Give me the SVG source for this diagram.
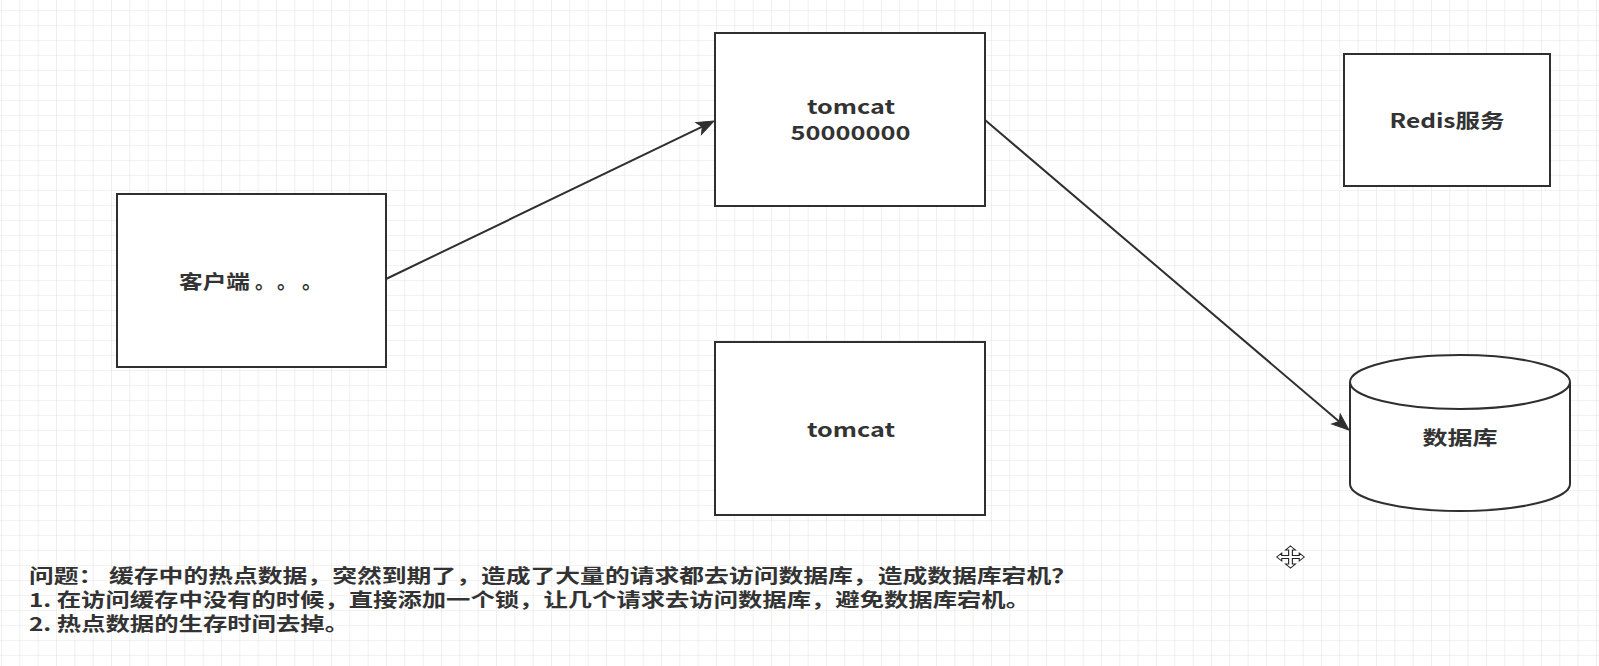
<svg xmlns="http://www.w3.org/2000/svg" width="1599" height="666" viewBox="0 0 1599 666">
  <style>
    .box { fill: #ffffff; stroke: #2f2f2f; stroke-width: 2; }
    .lbl { font-family: "Noto Sans CJK SC", "Open Sans", sans-serif; font-weight: bold; font-size: 19.5px; fill: #333333; }
    .note { font-family: "Noto Sans CJK SC", "Open Sans", sans-serif; font-weight: bold; font-size: 19px; fill: #333333; }
    .edge { fill: none; stroke: #2f2f2f; stroke-width: 2; }
  </style>
  <defs>
    <pattern id="grid" x="1" y="10" width="18.333" height="15" patternUnits="userSpaceOnUse">
      <path d="M0 0 H18.333 M0 0 V15" fill="none" stroke="#e6e6e6" stroke-width="1.2"/>
    </pattern>
    <marker id="arrow" markerUnits="userSpaceOnUse" markerWidth="30" markerHeight="30" refX="0" refY="0" orient="auto" overflow="visible">
      <path d="M6,0 L-11,-6.5 L-7,0 L-11,6.5 Z" fill="#2f2f2f" stroke="#2f2f2f" stroke-width="1" stroke-linejoin="miter"/>
    </marker>
  </defs>

  <rect x="0" y="0" width="1599" height="666" fill="#ffffff"/>
  <rect x="0" y="0" width="1599" height="666" fill="url(#grid)"/>

  <g id="connectors">
    <line class="edge" x1="386" y1="279" x2="708.6" y2="123.6" marker-end="url(#arrow)"/>
    <line class="edge" x1="985" y1="120" x2="1344.4" y2="426.1" marker-end="url(#arrow)"/>
  </g>

  <g id="client">
    <rect class="box" x="117" y="194" width="269" height="173"/>
    <text class="lbl" y="289"><tspan x="179" textLength="71" lengthAdjust="spacingAndGlyphs">客户端</tspan><tspan x="255">。</tspan><tspan x="277">。</tspan><tspan x="302">。</tspan></text>
  </g>

  <g id="tomcat1">
    <rect class="box" x="715" y="33" width="270" height="173"/>
    <text class="lbl" x="851" y="114" text-anchor="middle" textLength="88" lengthAdjust="spacingAndGlyphs">tomcat</text>
    <text class="lbl" x="850.5" y="140" text-anchor="middle" textLength="120" lengthAdjust="spacingAndGlyphs">50000000</text>
  </g>

  <g id="tomcat2">
    <rect class="box" x="715" y="342" width="270" height="173"/>
    <text class="lbl" x="851" y="437" text-anchor="middle" textLength="88" lengthAdjust="spacingAndGlyphs">tomcat</text>
  </g>

  <g id="redis">
    <rect class="box" x="1344" y="54" width="206" height="132"/>
    <text class="lbl" x="1447" y="128" text-anchor="middle" textLength="115" lengthAdjust="spacingAndGlyphs">Redis服务</text>
  </g>

  <g id="database">
    <path class="box" d="M1350,382 A110,27 0 0,1 1570,382 V484 A110,27 0 0,1 1350,484 Z"/>
    <path class="edge" d="M1350,382 A110,27 0 0,0 1570,382"/>
    <text class="lbl" x="1460" y="445" text-anchor="middle" textLength="75" lengthAdjust="spacingAndGlyphs">数据库</text>
  </g>

  <g id="notes">
    <text class="note" x="29" y="583" textLength="1047" lengthAdjust="spacingAndGlyphs">问题： 缓存中的热点数据，突然到期了，造成了大量的请求都去访问数据库，造成数据库宕机？</text>
    <text class="note" x="29" y="607" textLength="1001" lengthAdjust="spacingAndGlyphs">1. 在访问缓存中没有的时候，直接添加一个锁，让几个请求去访问数据库，避免数据库宕机。</text>
    <text class="note" x="29" y="631" textLength="320" lengthAdjust="spacingAndGlyphs">2. 热点数据的生存时间去掉。</text>
  </g>

  <g id="cursor" transform="translate(1290.5,557) scale(1.25,1)">
    <path d="M0,-11 L4,-7 L1.5,-7 L1.5,-1.5 L7,-1.5 L7,-4 L11,0 L7,4 L7,1.5 L1.5,1.5 L1.5,7 L4,7 L0,11 L-4,7 L-1.5,7 L-1.5,1.5 L-7,1.5 L-7,4 L-11,0 L-7,-4 L-7,-1.5 L-1.5,-1.5 L-1.5,-7 L-4,-7 Z" fill="#ffffff" stroke="#222222" stroke-width="0.9" stroke-linejoin="miter"/>
  </g>
</svg>
